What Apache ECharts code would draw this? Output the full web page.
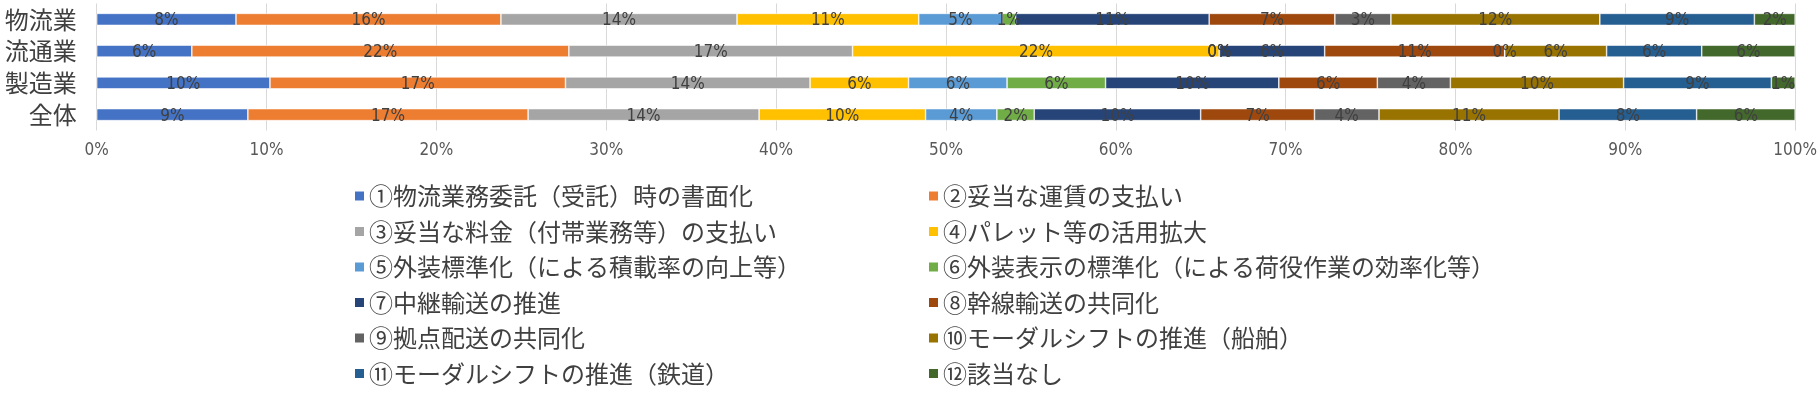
<!DOCTYPE html>
<html><head><meta charset="utf-8">
<script src="https://cdn.jsdelivr.net/npm/echarts@6/dist/echarts.min.js"></script>
<style>html,body{margin:0;padding:0;background:#fff}#c{width:1820px;height:393px}</style>
</head><body><div id="c"></div>
<script>
const categories = ['物流業', '流通業', '製造業', '全体'];
const seriesNames = [
  '①物流業務委託（受託）時の書面化',
  '②妥当な運賃の支払い',
  '③妥当な料金（付帯業務等）の支払い',
  '④パレット等の活用拡大',
  '⑤外装標準化（による積載率の向上等）',
  '⑥外装表示の標準化（による荷役作業の効率化等）',
  '⑦中継輸送の推進',
  '⑧幹線輸送の共同化',
  '⑨拠点配送の共同化',
  '⑩モーダルシフトの推進（船舶）',
  '⑪モーダルシフトの推進（鉄道）',
  '⑫該当なし'
];
// percentages per category (物流業, 流通業, 製造業, 全体)
const s01 = [8.2, 5.6, 10.2, 8.9];
const s02 = [15.6, 22.2, 17.4, 16.5];
const s03 = [13.9, 16.7, 14.4, 13.6];
const s04 = [10.7, 21.6, 5.8, 9.8];
const s05 = [4.9, 0, 5.8, 4.2];
const s06 = [0.8, 0, 5.8, 2.2];
const s07 = [11.4, 6.2, 10.2, 9.8];
const s08 = [7.4, 10.6, 5.8, 6.7];
const s09 = [3.3, 0, 4.3, 3.8];
const s10 = [12.3, 6.0, 10.2, 10.6];
const s11 = [9.1, 5.6, 8.7, 8.1];
const s12 = [2.4, 5.5, 1.4, 5.8];
const xTicks = [0, 10, 20, 30, 40, 50, 60, 70, 80, 90, 100];
const colors = ['#4472C4','#ED7D31','#A5A5A5','#FFC000','#5B9BD5','#70AD47','#264478','#9E480E','#636363','#997300','#255E91','#43682B'];

const allData = [s01,s02,s03,s04,s05,s06,s07,s08,s09,s10,s11,s12];
const narrow = "'Liberation Sans Narrow','DejaVu Sans Condensed','Roboto Condensed','Noto Sans CJK JP',sans-serif";
const jp = "'Noto Sans CJK JP',sans-serif";

const chart = echarts.init(document.getElementById('c'), null, {renderer:'canvas'});
chart.setOption({
  animation: false,
  color: colors,
  grid: {left: 96.7, right: 23.3, top: 3.5, height: 127, containLabel: false},
  xAxis: {
    type: 'value', min: xTicks[0], max: xTicks[xTicks.length-1], interval: 10,
    axisLine: {show: false}, axisTick: {show: false},
    splitLine: {show: true, lineStyle: {color: '#d9d9d9', width: 1}},
    axisLabel: {formatter: '{value}%', color: '#595959', fontFamily: narrow, fontSize: 17, margin: 12}
  },
  yAxis: {
    type: 'category', data: categories, inverse: true,
    axisLine: {show: false}, axisTick: {show: false},
    axisLabel: {color: '#404040', fontFamily: jp, fontSize: 24, margin: 20}
  },
  legend: [
    {
      orient: 'vertical', left: 348, top: 177, icon: 'rect', itemWidth: 11, itemHeight: 11,
      itemGap: 7.5, selectedMode: false,
      data: seriesNames.filter((n, i) => i % 2 === 0),
      textStyle: {fontFamily: jp, fontSize: 24, color: '#404040', lineHeight: 28, padding: [0,0,0,-1]}
    },
    {
      orient: 'vertical', left: 922, top: 177, icon: 'rect', itemWidth: 11, itemHeight: 11,
      itemGap: 7.5, selectedMode: false,
      data: seriesNames.filter((n, i) => i % 2 === 1),
      textStyle: {fontFamily: jp, fontSize: 24, color: '#404040', lineHeight: 28, padding: [0,0,0,-1]}
    }
  ],
  series: seriesNames.map((name, i) => ({
    name: name, type: 'bar', stack: 'total', barWidth: 12,
    data: allData[i],
    itemStyle: {borderColor: '#ffffff', borderWidth: 0.6},
    label: {
      show: true, position: 'inside', color: '#404040', fontFamily: narrow, fontSize: 17,
      offset: [0, 1.5],
      formatter: p => Math.round(p.value) + '%'
    }
  }))
});
</script></body></html>
